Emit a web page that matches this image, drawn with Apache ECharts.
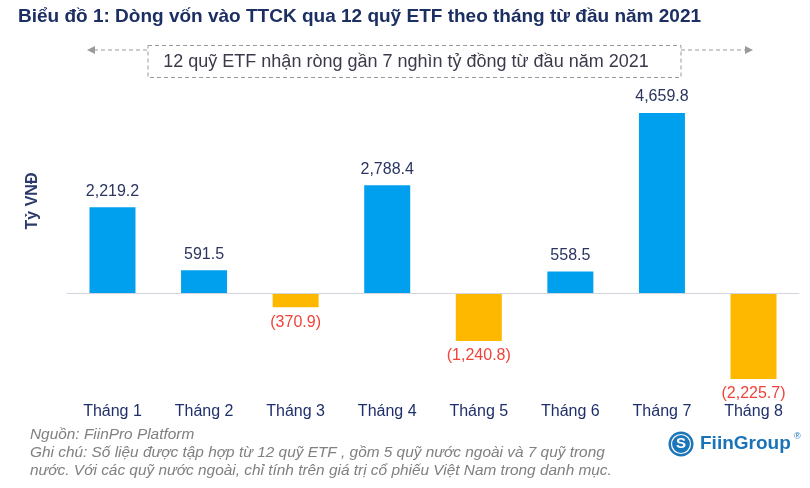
<!DOCTYPE html>
<html>
<head>
<meta charset="utf-8">
<script src="https://cdn.jsdelivr.net/npm/echarts@6/dist/echarts.min.js"></script>
<style>
html,body{margin:0;padding:0;background:#fff;}
#c{width:810px;height:488px;}
</style>
</head>
<body>
<div id="c"></div>
<script>
const categories = ['Tháng 1','Tháng 2','Tháng 3','Tháng 4','Tháng 5','Tháng 6','Tháng 7','Tháng 8'];
const values = [2219.2, 591.5, -370.9, 2788.4, -1240.8, 558.5, 4659.8, -2225.7];
const titleText = 'Biểu đồ 1: Dòng vốn vào TTCK qua 12 quỹ ETF theo tháng từ đầu năm 2021';
const calloutText = '12 quỹ ETF nhận ròng gần 7 nghìn tỷ đồng từ đầu năm 2021';
const yName = 'Tỷ VNĐ';
const notes = [
  'Nguồn: FiinPro Platform',
  'Ghi chú: Số liệu được tập hợp từ 12 quỹ ETF , gồm 5 quỹ nước ngoài và 7 quỹ trong',
  'nước. Với các quỹ nước ngoài, chỉ tính trên giá trị cổ phiếu Việt Nam trong danh mục.'
];

const FONT = 'Liberation Sans, Arial, sans-serif';
const POS = '#00A0EE', NEG = '#FFB800';

function fmt(v){
  const s = Math.abs(v).toLocaleString('en-US',{minimumFractionDigits:1, maximumFractionDigits:1});
  return v < 0 ? '(' + s + ')' : s;
}

const barData = values.map(v => ({
  value: v,
  itemStyle: {color: v < 0 ? NEG : POS},
  label: v < 0
    ? {position: 'bottom', distance: 7, color: '#F0433A'}
    : {position: 'top', distance: 8, color: '#2B3560'}
}));

const chart = echarts.init(document.getElementById('c'), null, {renderer:'canvas'});
chart.setOption({
  animation: false,
  backgroundColor: '#fff',
  grid: {left: 66.7, right: 10.7, top: 99.8, bottom: 98.4},
  xAxis: {
    type: 'category',
    data: categories,
    axisLine: {show: false, onZero: false},
    axisTick: {show: false},
    axisLabel: {color: '#1F2F6B', fontSize: 16, fontFamily: FONT, margin: 14}
  },
  yAxis: {
    type: 'value',
    min: -2500, max: 5000, interval: 2500,
    axisLine: {show: false},
    axisTick: {show: false},
    axisLabel: {show: false},
    splitLine: {show: false}
  },
  series: [{
    type: 'bar',
    data: barData,
    barWidth: 46,
    label: {
      show: true,
      fontSize: 16,
      fontFamily: FONT,
      formatter: p => fmt(p.value)
    },
    markLine: {
      silent: true,
      symbol: 'none',
      label: {show: false},
      lineStyle: {color: '#D4D4DE', width: 1, type: 'solid'},
      data: [{yAxis: 0}]
    }
  }],
  graphic: [
    {type:'text', left: 18, top: 7,
     style:{text: titleText, fill:'#1C2F63', font:'bold 19px ' + FONT}},
    {type:'rect', shape:{x:148, y:45.5, width:533, height:32},
     style:{fill:'none', stroke:'#9A9A9A', lineWidth:1, lineDash:[4,3]}},
    {type:'text', x: 406, y: 62,
     style:{text: calloutText, fill:'#3A3A4A', font:'18px ' + FONT, align:'center', verticalAlign:'middle'}},
    {type:'line', shape:{x1:94, y1:50, x2:148, y2:50},
     style:{stroke:'#9A9A9A', lineWidth:1.2, lineDash:[4,3]}},
    {type:'polygon', shape:{points:[[87,50],[95,46],[95,54]]}, style:{fill:'#9A9A9A'}},
    {type:'line', shape:{x1:681, y1:50, x2:746, y2:50},
     style:{stroke:'#9A9A9A', lineWidth:1.2, lineDash:[4,3]}},
    {type:'polygon', shape:{points:[[753,50],[745,46],[745,54]]}, style:{fill:'#9A9A9A'}},
    {type:'text', x: 33, y: 201, rotation: Math.PI/2,
     style:{text: yName, fill:'#2B3A6B', font:'bold 16px ' + FONT, align:'center', verticalAlign:'middle'}},
    {type:'text', x: 30, y: 435,
     style:{text: notes[0], fill:'#808080', font:'italic 15.4px ' + FONT, verticalAlign:'middle'}},
    {type:'text', x: 30, y: 453,
     style:{text: notes[1], fill:'#808080', font:'italic 15.4px ' + FONT, verticalAlign:'middle'}},
    {type:'text', x: 30, y: 471,
     style:{text: notes[2], fill:'#808080', font:'italic 15.4px ' + FONT, verticalAlign:'middle'}},
    {type:'circle', shape:{cx:681, cy:444, r:12.5}, style:{fill:'#1B75BB'}},
    {type:'circle', shape:{cx:681, cy:444, r:9.5}, style:{fill:'none', stroke:'#fff', lineWidth:1.2}},
    {type:'text', x: 681, y: 444,
     style:{text:'S', fill:'#fff', font:'bold 15px ' + FONT, align:'center', verticalAlign:'middle'}},
    {type:'text', x: 700, y: 444,
     style:{text:'FiinGroup', fill:'#1A73B8', font:'bold 19px ' + FONT, verticalAlign:'middle'}},
    {type:'text', x: 794, y: 437,
     style:{text:'®', fill:'#1A73B8', font:'9px ' + FONT, verticalAlign:'middle'}}
  ]
});
</script>
</body>
</html>
